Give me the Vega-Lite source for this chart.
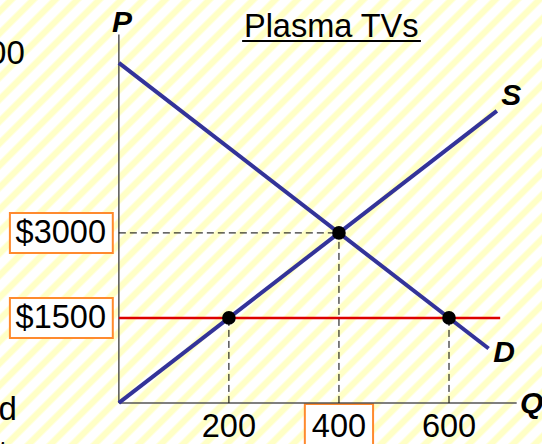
{
  "$schema": "https://vega.github.io/schema/vega-lite/v6.json",
  "width": 542,
  "height": 444,
  "autosize": "none",
  "padding": 0,
  "background": "#ffffff",
  "view": {
    "stroke": null,
    "fill": {
      "gradient": "linear",
      "x1": 0, "y1": 0, "x2": 1.10412, "y2": 0.90449,
      "stops": [
        {"offset": 0.005, "color": "#ffffff"}, {"offset": 0.008, "color": "#ffffc6"}, {"offset": 0.014, "color": "#ffffc6"}, {"offset": 0.017, "color": "#ffffff"},
        {"offset": 0.027, "color": "#ffffff"}, {"offset": 0.030, "color": "#ffffc6"}, {"offset": 0.036, "color": "#ffffc6"}, {"offset": 0.039, "color": "#ffffff"},
        {"offset": 0.049, "color": "#ffffff"}, {"offset": 0.052, "color": "#ffffc6"}, {"offset": 0.058, "color": "#ffffc6"}, {"offset": 0.061, "color": "#ffffff"},
        {"offset": 0.071, "color": "#ffffff"}, {"offset": 0.074, "color": "#ffffc6"}, {"offset": 0.080, "color": "#ffffc6"}, {"offset": 0.083, "color": "#ffffff"},
        {"offset": 0.093, "color": "#ffffff"}, {"offset": 0.096, "color": "#ffffc6"}, {"offset": 0.102, "color": "#ffffc6"}, {"offset": 0.105, "color": "#ffffff"},
        {"offset": 0.115, "color": "#ffffff"}, {"offset": 0.118, "color": "#ffffc6"}, {"offset": 0.124, "color": "#ffffc6"}, {"offset": 0.127, "color": "#ffffff"},
        {"offset": 0.137, "color": "#ffffff"}, {"offset": 0.140, "color": "#ffffc6"}, {"offset": 0.146, "color": "#ffffc6"}, {"offset": 0.149, "color": "#ffffff"},
        {"offset": 0.159, "color": "#ffffff"}, {"offset": 0.162, "color": "#ffffc6"}, {"offset": 0.168, "color": "#ffffc6"}, {"offset": 0.171, "color": "#ffffff"},
        {"offset": 0.181, "color": "#ffffff"}, {"offset": 0.184, "color": "#ffffc6"}, {"offset": 0.190, "color": "#ffffc6"}, {"offset": 0.193, "color": "#ffffff"},
        {"offset": 0.203, "color": "#ffffff"}, {"offset": 0.206, "color": "#ffffc6"}, {"offset": 0.212, "color": "#ffffc6"}, {"offset": 0.215, "color": "#ffffff"},
        {"offset": 0.225, "color": "#ffffff"}, {"offset": 0.228, "color": "#ffffc6"}, {"offset": 0.234, "color": "#ffffc6"}, {"offset": 0.237, "color": "#ffffff"},
        {"offset": 0.247, "color": "#ffffff"}, {"offset": 0.250, "color": "#ffffc6"}, {"offset": 0.256, "color": "#ffffc6"}, {"offset": 0.259, "color": "#ffffff"},
        {"offset": 0.269, "color": "#ffffff"}, {"offset": 0.272, "color": "#ffffc6"}, {"offset": 0.278, "color": "#ffffc6"}, {"offset": 0.281, "color": "#ffffff"},
        {"offset": 0.291, "color": "#ffffff"}, {"offset": 0.294, "color": "#ffffc6"}, {"offset": 0.300, "color": "#ffffc6"}, {"offset": 0.303, "color": "#ffffff"},
        {"offset": 0.313, "color": "#ffffff"}, {"offset": 0.316, "color": "#ffffc6"}, {"offset": 0.322, "color": "#ffffc6"}, {"offset": 0.325, "color": "#ffffff"},
        {"offset": 0.335, "color": "#ffffff"}, {"offset": 0.338, "color": "#ffffc6"}, {"offset": 0.344, "color": "#ffffc6"}, {"offset": 0.347, "color": "#ffffff"},
        {"offset": 0.357, "color": "#ffffff"}, {"offset": 0.360, "color": "#ffffc6"}, {"offset": 0.366, "color": "#ffffc6"}, {"offset": 0.369, "color": "#ffffff"},
        {"offset": 0.379, "color": "#ffffff"}, {"offset": 0.382, "color": "#ffffc6"}, {"offset": 0.388, "color": "#ffffc6"}, {"offset": 0.391, "color": "#ffffff"},
        {"offset": 0.401, "color": "#ffffff"}, {"offset": 0.404, "color": "#ffffc6"}, {"offset": 0.410, "color": "#ffffc6"}, {"offset": 0.413, "color": "#ffffff"},
        {"offset": 0.423, "color": "#ffffff"}, {"offset": 0.426, "color": "#ffffc6"}, {"offset": 0.432, "color": "#ffffc6"}, {"offset": 0.435, "color": "#ffffff"},
        {"offset": 0.445, "color": "#ffffff"}, {"offset": 0.448, "color": "#ffffc6"}, {"offset": 0.454, "color": "#ffffc6"}, {"offset": 0.457, "color": "#ffffff"},
        {"offset": 0.467, "color": "#ffffff"}, {"offset": 0.470, "color": "#ffffc6"}, {"offset": 0.476, "color": "#ffffc6"}, {"offset": 0.479, "color": "#ffffff"},
        {"offset": 0.489, "color": "#ffffff"}, {"offset": 0.492, "color": "#ffffc6"}, {"offset": 0.498, "color": "#ffffc6"}, {"offset": 0.501, "color": "#ffffff"},
        {"offset": 0.511, "color": "#ffffff"}, {"offset": 0.514, "color": "#ffffc6"}, {"offset": 0.520, "color": "#ffffc6"}, {"offset": 0.523, "color": "#ffffff"},
        {"offset": 0.533, "color": "#ffffff"}, {"offset": 0.536, "color": "#ffffc6"}, {"offset": 0.542, "color": "#ffffc6"}, {"offset": 0.545, "color": "#ffffff"},
        {"offset": 0.555, "color": "#ffffff"}, {"offset": 0.558, "color": "#ffffc6"}, {"offset": 0.564, "color": "#ffffc6"}, {"offset": 0.567, "color": "#ffffff"},
        {"offset": 0.577, "color": "#ffffff"}, {"offset": 0.580, "color": "#ffffc6"}, {"offset": 0.586, "color": "#ffffc6"}, {"offset": 0.589, "color": "#ffffff"},
        {"offset": 0.599, "color": "#ffffff"}, {"offset": 0.602, "color": "#ffffc6"}, {"offset": 0.608, "color": "#ffffc6"}, {"offset": 0.611, "color": "#ffffff"},
        {"offset": 0.621, "color": "#ffffff"}, {"offset": 0.624, "color": "#ffffc6"}, {"offset": 0.630, "color": "#ffffc6"}, {"offset": 0.633, "color": "#ffffff"},
        {"offset": 0.643, "color": "#ffffff"}, {"offset": 0.646, "color": "#ffffc6"}, {"offset": 0.652, "color": "#ffffc6"}, {"offset": 0.655, "color": "#ffffff"},
        {"offset": 0.665, "color": "#ffffff"}, {"offset": 0.668, "color": "#ffffc6"}, {"offset": 0.674, "color": "#ffffc6"}, {"offset": 0.677, "color": "#ffffff"},
        {"offset": 0.687, "color": "#ffffff"}, {"offset": 0.690, "color": "#ffffc6"}, {"offset": 0.696, "color": "#ffffc6"}, {"offset": 0.699, "color": "#ffffff"},
        {"offset": 0.709, "color": "#ffffff"}, {"offset": 0.712, "color": "#ffffc6"}, {"offset": 0.718, "color": "#ffffc6"}, {"offset": 0.721, "color": "#ffffff"},
        {"offset": 0.731, "color": "#ffffff"}, {"offset": 0.734, "color": "#ffffc6"}, {"offset": 0.740, "color": "#ffffc6"}, {"offset": 0.743, "color": "#ffffff"},
        {"offset": 0.753, "color": "#ffffff"}, {"offset": 0.756, "color": "#ffffc6"}, {"offset": 0.762, "color": "#ffffc6"}, {"offset": 0.765, "color": "#ffffff"},
        {"offset": 0.775, "color": "#ffffff"}, {"offset": 0.778, "color": "#ffffc6"}, {"offset": 0.784, "color": "#ffffc6"}, {"offset": 0.787, "color": "#ffffff"},
        {"offset": 0.797, "color": "#ffffff"}, {"offset": 0.800, "color": "#ffffc6"}, {"offset": 0.806, "color": "#ffffc6"}, {"offset": 0.809, "color": "#ffffff"},
        {"offset": 0.819, "color": "#ffffff"}, {"offset": 0.822, "color": "#ffffc6"}, {"offset": 0.828, "color": "#ffffc6"}, {"offset": 0.831, "color": "#ffffff"},
        {"offset": 0.841, "color": "#ffffff"}, {"offset": 0.844, "color": "#ffffc6"}, {"offset": 0.850, "color": "#ffffc6"}, {"offset": 0.853, "color": "#ffffff"},
        {"offset": 0.863, "color": "#ffffff"}, {"offset": 0.866, "color": "#ffffc6"}, {"offset": 0.872, "color": "#ffffc6"}, {"offset": 0.875, "color": "#ffffff"},
        {"offset": 0.885, "color": "#ffffff"}, {"offset": 0.888, "color": "#ffffc6"}, {"offset": 0.894, "color": "#ffffc6"}, {"offset": 0.897, "color": "#ffffff"},
        {"offset": 0.907, "color": "#ffffff"}, {"offset": 0.910, "color": "#ffffc6"}, {"offset": 0.916, "color": "#ffffc6"}, {"offset": 0.919, "color": "#ffffff"},
        {"offset": 0.929, "color": "#ffffff"}, {"offset": 0.932, "color": "#ffffc6"}, {"offset": 0.938, "color": "#ffffc6"}, {"offset": 0.941, "color": "#ffffff"},
        {"offset": 0.951, "color": "#ffffff"}, {"offset": 0.954, "color": "#ffffc6"}, {"offset": 0.960, "color": "#ffffc6"}, {"offset": 0.963, "color": "#ffffff"},
        {"offset": 0.973, "color": "#ffffff"}, {"offset": 0.976, "color": "#ffffc6"}, {"offset": 0.982, "color": "#ffffc6"}, {"offset": 0.985, "color": "#ffffff"}
      ]
    }
  },
  "datasets": {
    "boxes": [
      {"q1": -198, "q2": -11, "p1": 2647, "p2": 3353},
      {"q1": -198, "q2": -11, "p1": 1147, "p2": 1853},
      {"q1": 338, "q2": 462, "p1": -18, "p2": -760}
    ],
    "axes": [
      {"q1": 0, "p1": 0, "q2": 0, "p2": 6500},
      {"q1": 0, "p1": 0, "q2": 723, "p2": 0}
    ],
    "guides": [
      {"q1": 0, "p1": 3000, "q2": 400, "p2": 3000},
      {"q1": 400, "p1": 0, "q2": 400, "p2": 3000},
      {"q1": 200, "p1": 0, "q2": 200, "p2": 1500},
      {"q1": 600, "p1": 0, "q2": 600, "p2": 1500}
    ],
    "priceCeiling": [
      {"q1": 0, "p1": 1500, "q2": 693, "p2": 1500}
    ],
    "curves": [
      {"curve": "S", "q1": 0, "p1": 0, "q2": 687, "p2": 5152},
      {"curve": "D", "q1": 0, "p1": 6000, "q2": 672, "p2": 960}
    ],
    "underline": [
      {"q1": 224, "q2": 549, "p1": 6388, "p2": 6388}
    ],
    "points": [
      {"q": 200, "p": 1500},
      {"q": 400, "p": 3000},
      {"q": 600, "p": 1500}
    ],
    "plainLabels": [
      {"label": "Plasma TVs", "q": 386, "p": 6459},
      {"label": "200", "q": 200, "p": -600},
      {"label": "400", "q": 400, "p": -600},
      {"label": "600", "q": 600, "p": -600}
    ],
    "priceLabels": [
      {"label": "$3000", "q": -105.5, "p": 3000},
      {"label": "$1500", "q": -105.5, "p": 1500}
    ],
    "curveLabels": [
      {"label": "P", "q": 5.5, "p": 6547},
      {"label": "S", "q": 713, "p": 5259},
      {"label": "D", "q": 700, "p": 723}
    ],
    "axisLabelQ": [
      {"label": "Q", "q": 729, "p": -176}
    ],
    "sideText": [
      {"label": "00", "q": -171, "p": 5982},
      {"label": "d", "q": -185.5, "p": -300},
      {"label": "t", "q": -202, "p": -1076}
    ]
  },
  "layer": [
    {
      "data": {"name": "boxes"},
      "mark": {"type": "rect", "fill": "#ffffff", "stroke": "#ff8a2e", "strokeWidth": 2},
      "encoding": {
        "x": {"field": "q1", "type": "quantitative", "scale": {"domain": [-216, 769], "nice": false, "zero": false}, "axis": null},
        "x2": {"field": "q2"},
        "y": {"field": "p1", "type": "quantitative", "scale": {"domain": [-725, 7110], "nice": false, "zero": false}, "axis": null},
        "y2": {"field": "p2"}
      }
    },
    {
      "data": {"name": "axes"},
      "mark": {"type": "rule", "color": "#555555", "strokeWidth": 1.5},
      "encoding": {
        "x": {"field": "q1", "type": "quantitative"},
        "x2": {"field": "q2"},
        "y": {"field": "p1", "type": "quantitative"},
        "y2": {"field": "p2"}
      }
    },
    {
      "data": {"name": "guides"},
      "mark": {"type": "rule", "color": "#000000", "strokeWidth": 1, "strokeDash": [7, 4]},
      "encoding": {
        "x": {"field": "q1", "type": "quantitative"},
        "x2": {"field": "q2"},
        "y": {"field": "p1", "type": "quantitative"},
        "y2": {"field": "p2"}
      }
    },
    {
      "data": {"name": "priceCeiling"},
      "mark": {"type": "rule", "color": "#dd0000", "strokeWidth": 2.5},
      "encoding": {
        "x": {"field": "q1", "type": "quantitative"},
        "x2": {"field": "q2"},
        "y": {"field": "p1", "type": "quantitative"},
        "y2": {"field": "p2"}
      }
    },
    {
      "data": {"name": "curves"},
      "mark": {"type": "rule", "color": "#333399", "strokeWidth": 4},
      "encoding": {
        "x": {"field": "q1", "type": "quantitative"},
        "x2": {"field": "q2"},
        "y": {"field": "p1", "type": "quantitative"},
        "y2": {"field": "p2"}
      }
    },
    {
      "data": {"name": "underline"},
      "mark": {"type": "rule", "color": "#000000", "strokeWidth": 2},
      "encoding": {
        "x": {"field": "q1", "type": "quantitative"},
        "x2": {"field": "q2"},
        "y": {"field": "p1", "type": "quantitative"}
      }
    },
    {
      "data": {"name": "points"},
      "mark": {"type": "circle", "color": "#000000", "opacity": 1, "size": 185},
      "encoding": {
        "x": {"field": "q", "type": "quantitative"},
        "y": {"field": "p", "type": "quantitative"}
      }
    },
    {
      "data": {"name": "plainLabels"},
      "mark": {"type": "text", "font": "Liberation Sans", "fontSize": 32.5, "color": "#000000", "align": "center", "baseline": "alphabetic"},
      "encoding": {
        "x": {"field": "q", "type": "quantitative"},
        "y": {"field": "p", "type": "quantitative"},
        "text": {"field": "label"}
      }
    },
    {
      "data": {"name": "priceLabels"},
      "mark": {"type": "text", "font": "Liberation Sans", "fontSize": 32.5, "color": "#000000", "align": "center", "baseline": "middle"},
      "encoding": {
        "x": {"field": "q", "type": "quantitative"},
        "y": {"field": "p", "type": "quantitative"},
        "text": {"field": "label"}
      }
    },
    {
      "data": {"name": "curveLabels"},
      "mark": {"type": "text", "font": "Liberation Sans", "fontSize": 30, "fontWeight": "bold", "fontStyle": "italic", "color": "#000000", "align": "center", "baseline": "alphabetic"},
      "encoding": {
        "x": {"field": "q", "type": "quantitative"},
        "y": {"field": "p", "type": "quantitative"},
        "text": {"field": "label"}
      }
    },
    {
      "data": {"name": "axisLabelQ"},
      "mark": {"type": "text", "font": "Liberation Sans", "fontSize": 30, "fontWeight": "bold", "fontStyle": "italic", "color": "#000000", "align": "left", "baseline": "alphabetic"},
      "encoding": {
        "x": {"field": "q", "type": "quantitative"},
        "y": {"field": "p", "type": "quantitative"},
        "text": {"field": "label"}
      }
    },
    {
      "data": {"name": "sideText"},
      "mark": {"type": "text", "font": "Liberation Sans", "fontSize": 33, "color": "#000000", "align": "right", "baseline": "alphabetic"},
      "encoding": {
        "x": {"field": "q", "type": "quantitative"},
        "y": {"field": "p", "type": "quantitative"},
        "text": {"field": "label"}
      }
    }
  ]
}
